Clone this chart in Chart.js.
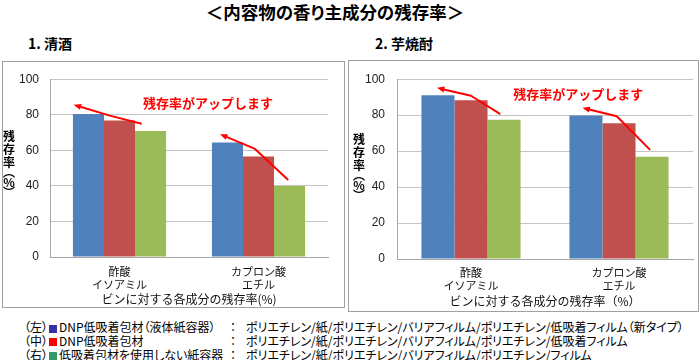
<!DOCTYPE html>
<html lang="ja">
<head>
<meta charset="utf-8">
<script src="https://cdn.jsdelivr.net/npm/chart.js@4/dist/chart.umd.min.js"></script>
<style>
  html, body { margin: 0; padding: 0; }
  body { width: 700px; height: 360px; background: #fff; position: relative; overflow: hidden;
         font-family: 'Noto Sans CJK JP', sans-serif; color: #000; }
  .abs { position: absolute; }
  #title { left: 0; top: 1px; width: 670px; text-align: center; font-size: 17.5px; font-weight: bold;
           line-height: 22px; font-feature-settings: "palt"; }
  .sub { top: 34px; font-size: 14px; font-weight: bold; line-height: 18px; }
  .box { border: 1px solid #a0a0a0; box-sizing: border-box; }
  .ytitle { width: 14px; display: flex; flex-direction: column; align-items: center;
            font-size: 12px; font-weight: bold; }
  .ytitle span { display: block; line-height: 13px; }
  .ytitle span.p { line-height: 7px; height: 7px; overflow: visible; }
  #legend { left: 24px; top: 320px; font-size: 12px; line-height: 13.8px; font-feature-settings: "palt"; }
  #legend .row { display: flex; white-space: nowrap; }
  #legend .c1 { width: 206px; }
  #legend .c2 { width: 16px; }
  #legend .sq { display: inline-block; width: 8px; height: 8px; margin: 0 2px 0 1px; vertical-align: -0.5px; }
</style>
</head>
<body>
<div id="title" class="abs">＜内容物の香り主成分の残存率＞</div>
<div class="abs sub" style="left:28px">1. 清酒</div>
<div class="abs sub" style="left:375px">2. 芋焼酎</div>

<div class="abs box" style="left:2px;top:61px;width:343px;height:247px"></div>
<div class="abs" style="left:2px;top:61px;width:343px;height:247px"><canvas id="c1"></canvas></div>
<div class="abs ytitle" id="yt1" style="left:2px;top:129px"></div>

<div class="abs box" style="left:348px;top:60px;width:351px;height:252px"></div>
<div class="abs" style="left:348px;top:60px;width:351px;height:252px"><canvas id="c2"></canvas></div>
<div class="abs ytitle" id="yt2" style="left:352px;top:132px"></div>

<div id="legend" class="abs"></div>

<script>
// ---- data ----
const categories = [['酢酸', 'イソアミル'], ['カプロン酸', 'エチル']];
const seriesNames = ['DNP低吸着包材（液体紙容器）', 'DNP低吸着包材', '低吸着包材を使用しない紙容器'];
const seriesPositions = ['（左）', '（中）', '（右）'];
const seriesStructures = [
  'ポリエチレン/紙/ポリエチレン/バリアフィルム/ポリエチレン/低吸着フィルム（新タイプ）',
  'ポリエチレン/紙/ポリエチレン/バリアフィルム/ポリエチレン/低吸着フィルム',
  'ポリエチレン/紙/ポリエチレン/バリアフィルム/ポリエチレン/フィルム'
];
const sakeLeft = [80.4, 64.4];
const sakeMid = [76.8, 56.5];
const sakeRight = [70.9, 40.0];
const shochuLeft = [91.1, 79.8];
const shochuMid = [88.3, 75.5];
const shochuRight = [77.5, 56.9];
const yTickValues = [0, 20, 40, 60, 80, 100];
const yTitleChars = ['残', '存', '率', '︵', '%', '︶'];
const calloutText = '残存率がアップします';
// annotation arrows, in data units: [category index, value], tail -> head
const sakeArrows = [
  [[0.16, 74.9], [-0.07, 79.5], [-0.33, 85.6]],
  [[1.214, 43.3], [0.975, 60.8], [0.723, 69.1]]
];
const sakeCallout = [0.637, 86.6];
const shochuArrows = [
  [[0.198, 80.6], [0.0, 90.8], [-0.23, 95.2]],
  [[1.21, 60.7], [0.985, 79.4], [0.753, 84.1]]
];
const shochuCallout = [0.725, 91.5];

// ---- styles ----
const barColors = ['#4F81BD', '#C0504D', '#9BBB59'];
const legendColors = ['#3333aa', '#ff0000', '#339966'];
const cjk = "'Noto Sans CJK JP', sans-serif";

// ---- y titles (upright stacked characters) ----
['yt1', 'yt2'].forEach(id => {
  const el = document.getElementById(id);
  yTitleChars.forEach(ch => {
    const s = document.createElement('span');
    s.textContent = ch;
    if (ch === '︵' || ch === '︶') s.className = 'p';
    el.appendChild(s);
  });
});

// ---- legend ----
const legend = document.getElementById('legend');
seriesNames.forEach((name, i) => {
  const row = document.createElement('div');
  row.className = 'row';
  row.innerHTML = '<span class="c1">' + seriesPositions[i] +
    '<span class="sq" style="background:' + legendColors[i] + '"></span>' + name + '</span>' +
    '<span class="c2">：</span><span>' + seriesStructures[i] + '</span>';
  legend.appendChild(row);
});

const arrowPlugin = {
  id: 'arrows',
  afterDatasetsDraw(chart, args, opts) {
    const { ctx, scales: { x, y } } = chart;
    ctx.save();
    ctx.strokeStyle = opts.color;
    ctx.fillStyle = opts.color;
    ctx.lineWidth = 2;
    ctx.lineJoin = 'round';
    for (const path of opts.paths) {
      const pts = path.map(([i, v]) => [x.getPixelForValue(i), y.getPixelForValue(v)]);
      const n = pts.length;
      const [x1, y1] = pts[n - 2];
      const [x2, y2] = pts[n - 1];
      const ang = Math.atan2(y2 - y1, x2 - x1);
      const hl = 8;
      const bx = x2 - (hl - 1) * Math.cos(ang), by = y2 - (hl - 1) * Math.sin(ang);
      ctx.beginPath();
      ctx.moveTo(pts[0][0], pts[0][1]);
      for (let k = 1; k < n - 1; k++) ctx.lineTo(pts[k][0], pts[k][1]);
      ctx.lineTo(bx, by);
      ctx.stroke();
      ctx.beginPath();
      ctx.moveTo(x2, y2);
      ctx.lineTo(x2 - hl * Math.cos(ang - 0.38), y2 - hl * Math.sin(ang - 0.38));
      ctx.lineTo(x2 - hl * Math.cos(ang + 0.38), y2 - hl * Math.sin(ang + 0.38));
      ctx.closePath();
      ctx.fill();
    }
    ctx.font = 'bold 13px ' + cjk;
    ctx.textAlign = 'center';
    ctx.textBaseline = 'middle';
    ctx.fillText(opts.text, x.getPixelForValue(opts.textAt[0]), y.getPixelForValue(opts.textAt[1]));
    ctx.restore();
  }
};

function makeChart(id, values, arrows, callout, xTitle, geo) {
  return new Chart(document.getElementById(id), {
    type: 'bar',
    data: {
      labels: categories,
      datasets: values.map((v, i) => ({
        label: seriesNames[i],
        data: v,
        backgroundColor: barColors[i],
        borderWidth: 0,
        barPercentage: 1.0,
        categoryPercentage: 0.67
      }))
    },
    options: {
      responsive: true,
      maintainAspectRatio: false,
      animation: false,
      events: [],
      layout: { padding: { left: geo.padLeft, top: geo.padTop, right: geo.padRight, bottom: 0 } },
      plugins: {
        legend: { display: false },
        tooltip: { enabled: false },
        arrows: { paths: arrows, text: calloutText, textAt: callout, color: '#ff0000' }
      },
      scales: {
        x: {
          grid: { display: false, drawTicks: false },
          border: { display: true, color: '#a6a6a6', width: 1 },
          ticks: { color: '#111', padding: geo.tickPad, font: { family: cjk, size: 11, lineHeight: 1.2 } },
          title: { display: true, text: xTitle, color: '#111', padding: { top: 0, bottom: geo.titlePad },
                   font: { family: cjk, size: 12, lineHeight: 1.2 } },
          afterFit(s) { s.height = geo.xHeight; }
        },
        y: {
          min: 0, max: 100,
          afterBuildTicks(s) { s.ticks = yTickValues.map(v => ({ value: v })); },
          grid: { color: '#c4c4c4', lineWidth: 1, drawTicks: false },
          border: { display: true, color: '#a6a6a6', width: 1 },
          ticks: { color: '#222', padding: geo.yTickPad, font: { family: "'Liberation Sans', Arial, sans-serif", size: 12 } },
          afterFit(s) { s.width = geo.yWidth; }
        }
      }
    },
    plugins: [arrowPlugin]
  });
}

makeChart('c1', [sakeLeft, sakeMid, sakeRight], sakeArrows, sakeCallout,
  'ビンに対する各成分の残存率(%)',
  { padLeft: 8, padTop: 9, padRight: 17, yWidth: 40, yTickPad: 11, xHeight: 51, tickPad: 8, titlePad: 1 });
makeChart('c2', [shochuLeft, shochuMid, shochuRight], shochuArrows, shochuCallout,
  'ビンに対する各成分の残存率（%）',
  { padLeft: 9, padTop: 10, padRight: 6, yWidth: 40, yTickPad: 12, xHeight: 53, tickPad: 7, titlePad: 3 });
</script>
</body>
</html>
